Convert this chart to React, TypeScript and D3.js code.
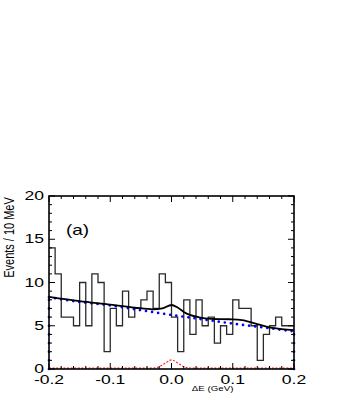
import React, { useRef, useEffect } from "react";
import * as d3 from "d3";

// histogram: events per 10 MeV bin, from -0.2 to 0.2 GeV
const binCounts = [
  14, 11, 6, 6, 5, 10, 5, 11, 10, 2,
  7, 5, 9, 6, 7, 8, 9, 7, 11, 10,
  6, 2, 8, 4, 8, 5, 6, 3, 5, 4,
  8, 7, 7, 5, 1, 4, 5, 6, 5, 5,
];

// total fit (solid black)
const fitX = [-0.2, -0.15, -0.1, -0.06, -0.03, -0.015, 0, 0.01, 0.02, 0.03, 0.045, 0.065, 0.095, 0.115, 0.14, 0.16, 0.18, 0.2];
const fitY = [8.35, 7.85, 7.45, 7.1, 6.9, 7.0, 7.4, 7.1, 6.6, 6.25, 5.97, 5.8, 5.75, 5.65, 5.2, 4.8, 4.6, 4.5];

// background (blue dotted)
const bgX = [-0.2, -0.15, -0.1, -0.05, 0, 0.05, 0.1, 0.15, 0.2];
const bgY = [8.3, 7.75, 7.35, 6.8, 6.25, 5.75, 5.25, 4.8, 4.35];

// signal (red dashed)
const sigX = [-0.2, -0.04, -0.03, -0.02, -0.01, 0, 0.01, 0.02, 0.03, 0.04, 0.2];
const sigY = [0.1, 0.1, 0.12, 0.25, 0.68, 1.05, 0.7, 0.27, 0.12, 0.1, 0.1];

const xTickValues = [-0.2, -0.1, 0, 0.1, 0.2];
const xTickLabels = ["-0.2", "-0.1", "0.0", "0.1", "0.2"];
const yTickValues = [0, 5, 10, 15, 20];
const yTickLabels = ["0", "5", "10", "15", "20"];

const W = 353;
const H = 398;
const FONT = "'Liberation Sans', Arial, Helvetica, sans-serif";
const STRETCH = 1.35;

export default function App() {
  const ref = useRef<SVGSVGElement>(null);

  useEffect(() => {
    const svg = d3.select(ref.current);
    svg.selectAll("*").remove();

    const margin = { top: 196, right: 59, bottom: 29, left: 49 };
    const x = d3.scaleLinear().domain([-0.2, 0.2]).range([margin.left, W - margin.right]);
    const y = d3.scaleLinear().domain([0, 20]).range([H - margin.bottom, margin.top]);

    const binW = 0.4 / binCounts.length;

    // histogram outline
    const histPts: [number, number][] = [];
    binCounts.forEach((c, i) => {
      const lo = -0.2 + i * binW;
      histPts.push([lo, c], [lo + binW, c]);
    });
    svg.append("path")
      .datum(histPts)
      .attr("fill", "none")
      .attr("stroke", "#2a2a2a")
      .attr("stroke-width", 1.3)
      .attr("d", d3.line().x((d) => x(d[0])).y((d) => y(d[1])));

    // signal
    svg.append("path")
      .datum(sigX.map((v, i) => [v, sigY[i]] as [number, number]))
      .attr("fill", "none")
      .attr("stroke", "#ff1a1a")
      .attr("stroke-width", 1.1)
      .attr("stroke-dasharray", "2 1.6")
      .attr("d", d3.line().x((d) => x(d[0])).y((d) => y(d[1])).curve(d3.curveMonotoneX));

    // background dotted curve with vertical edges
    const dotStyle = (p: any, gap: number) =>
      p.attr("fill", "none")
        .attr("stroke", "#0000ff")
        .attr("stroke-width", 2.7)
        .attr("stroke-linecap", "round")
        .attr("stroke-dasharray", `0 ${gap}`);
    const unit = y(0) - y(1);
    dotStyle(svg.append("path")
      .datum(bgX.map((v, i) => [v, bgY[i]] as [number, number]))
      .attr("d", d3.line().x((d) => x(d[0])).y((d) => y(d[1])).curve(d3.curveMonotoneX)), x(binW) - x(0));
    [0, bgX.length - 1].forEach((k) => {
      dotStyle(svg.append("line")
        .attr("x1", x(bgX[k])).attr("x2", x(bgX[k]))
        .attr("y1", y(0)).attr("y2", y(bgY[k])), unit);
    });

    // total fit
    svg.append("path")
      .datum(fitX.map((v, i) => [v, fitY[i]] as [number, number]))
      .attr("fill", "none")
      .attr("stroke", "#000")
      .attr("stroke-width", 1.8)
      .attr("d", d3.line().x((d) => x(d[0])).y((d) => y(d[1])).curve(d3.curveMonotoneX));

    // frame
    svg.append("rect")
      .attr("x", x(-0.2)).attr("y", y(20))
      .attr("width", x(0.2) - x(-0.2)).attr("height", y(0) - y(20))
      .attr("fill", "none").attr("stroke", "#000").attr("stroke-width", 1.6);

    // ticks, pointing inward on all four sides
    const tk = svg.append("g").attr("stroke", "#000").attr("stroke-width", 1);
    d3.range(-0.2, 0.2001, 0.02).forEach((v) => {
      const major = Math.abs(Math.round(v * 10) - v * 10) < 1e-6;
      const len = major ? 6 : 3;
      tk.append("line").attr("x1", x(v)).attr("x2", x(v)).attr("y1", y(0)).attr("y2", y(0) - len);
      tk.append("line").attr("x1", x(v)).attr("x2", x(v)).attr("y1", y(20)).attr("y2", y(20) + len);
    });
    d3.range(0, 21, 1).forEach((v) => {
      const len = v % 5 === 0 ? 6 : 3;
      tk.append("line").attr("x1", x(-0.2)).attr("x2", x(-0.2) + len).attr("y1", y(v)).attr("y2", y(v));
      tk.append("line").attr("x1", x(0.2)).attr("x2", x(0.2) - len).attr("y1", y(v)).attr("y2", y(v));
    });

    const txt = (tx: number, ty: number, s: string, size: number, anchor: string, sx = STRETCH) =>
      svg.append("text")
        .attr("transform", `translate(${tx},${ty}) scale(${sx},1)`)
        .attr("text-anchor", anchor)
        .attr("font-family", FONT)
        .attr("font-size", size)
        .attr("fill", "#000")
        .text(s);

    xTickValues.forEach((v, i) => txt(x(v), y(0) + 15, xTickLabels[i], 13, "middle"));
    yTickValues.forEach((v, i) => txt(x(-0.2) - 5, y(v) + 4, yTickLabels[i], 13, "end"));

    txt(x(-0.2) + 17, y(20) + 39, "(a)", 14, "start");
    txt(x(0.01) + 35, y(0) + 22, "\u0394E  (GeV)", 7.2, "middle");

    svg.append("text")
      .attr("transform", `translate(14,${(y(20) + y(0)) / 2 - 45}) rotate(-90) scale(1,1.35)`)
      .attr("text-anchor", "middle")
      .attr("font-family", FONT)
      .attr("font-size", 11)
      .attr("fill", "#000")
      .text("Events / 10 MeV");
  }, []);

  return (
    <svg
      ref={ref}
      width={W}
      height={H}
      style={{ position: "absolute", left: 0, top: 0, background: "#fff" }}
    />
  );
}
